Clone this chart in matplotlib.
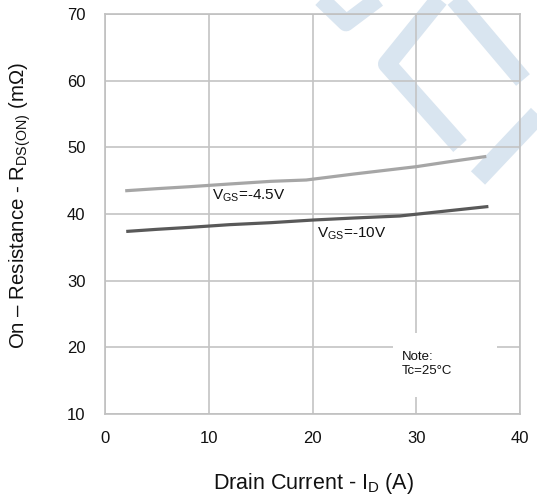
import matplotlib
matplotlib.use('Agg')
import matplotlib.pyplot as plt
from matplotlib.lines import Line2D
from matplotlib.patches import Rectangle

plt.rcParams['font.family'] = ['Liberation Sans', 'DejaVu Sans']
plt.rcParams['mathtext.fontset'] = 'custom'
plt.rcParams['mathtext.rm'] = 'Liberation Sans'
plt.rcParams['mathtext.it'] = 'Liberation Sans'

# Dados
id_45 = [2.1, 5.0, 8.2, 12.0, 16.0, 19.4, 24.0, 30.0, 33.0, 36.6]
rds_45 = [43.5, 43.8, 44.1, 44.5, 44.9, 45.1, 46.0, 47.1, 47.8, 48.6]
id_10 = [2.2, 5.0, 8.2, 12.0, 16.0, 20.1, 24.0, 28.4, 32.0, 36.8]
rds_10 = [37.4, 37.7, 38.0, 38.4, 38.7, 39.1, 39.4, 39.7, 40.3, 41.1]

xticks = [0, 10, 20, 30, 40]
yticks = [10, 20, 30, 40, 50, 60, 70]

W, H = 537, 497
fig = plt.figure(figsize=(W / 100, H / 100), dpi=100)
fig.patch.set_facecolor('white')

# Marca d'agua (logo) no fundo, em pixels da figura
def px(pts):
    return [p[0] / W for p in pts], [1 - p[1] / H for p in pts]

wm = '#d9e5f0'
strokes = [
    ([(318, -4), (346, 23), (382, -4)], 12),
    ([(442, -4), (387, 64), (460, 146)], 13),
    ([(452, -4), (523, 80)], 13),
    ([(478, 178), (548, 104)], 14),
]
for pts, lw in strokes:
    xs, ys = px(pts)
    fig.add_artist(Line2D(xs, ys, transform=fig.transFigure, color=wm,
                          linewidth=lw, solid_joinstyle='round',
                          solid_capstyle='butt', zorder=0))

ax = fig.add_axes([105 / W, 1 - 414 / H, 415 / W, 400 / H])
ax.set_facecolor('none')
ax.set_xlim(0, 40)
ax.set_ylim(10, 70)
ax.set_xticks(xticks)
ax.set_yticks(yticks)
ax.tick_params(length=0, labelsize=12, pad=12, colors='#111111')
ax.tick_params(axis='y', pad=14)
for s in ax.spines.values():
    s.set_color('#c0c0c0')
    s.set_linewidth(1.2)
ax.grid(True, color='#c4c4c4', linewidth=1.2)
ax.set_axisbelow(True)

ax.plot(id_45, rds_45, color='#a6a6a6', linewidth=2.3, zorder=3)
ax.plot(id_10, rds_10, color='#595959', linewidth=2.3, zorder=3)

ax.text(10.3, 42.7, r'V$_{\mathrm{GS}}$=-4.5V', fontsize=11, va='center', ha='left', color='#111111')
ax.text(20.4, 37.1, r'V$_{\mathrm{GS}}$=-10V', fontsize=11, va='center', ha='left', color='#111111')

# Caixa da nota
ax.add_patch(Rectangle((27.8, 12.55), 10.0, 9.6, facecolor='white', edgecolor='none', zorder=2))
ax.text(28.6, 17.5, 'Note:\nTc=25°C', fontsize=9.5, va='center', ha='left',
        linespacing=1.2, color='#111111', zorder=4)

fig.text(20 / W, 1 - 205 / H, r'On – Resistance - R$_{\mathrm{DS(ON)}}$ (mΩ)',
         rotation=90, ha='center', va='center', fontsize=14.7, color='#111111')
fig.text(314 / W, 1 - 483 / H, r'Drain Current - I$_{\mathrm{D}}$ (A)',
         ha='center', va='center', fontsize=15.5, color='#111111')

fig.savefig('out.png', dpi=100)
